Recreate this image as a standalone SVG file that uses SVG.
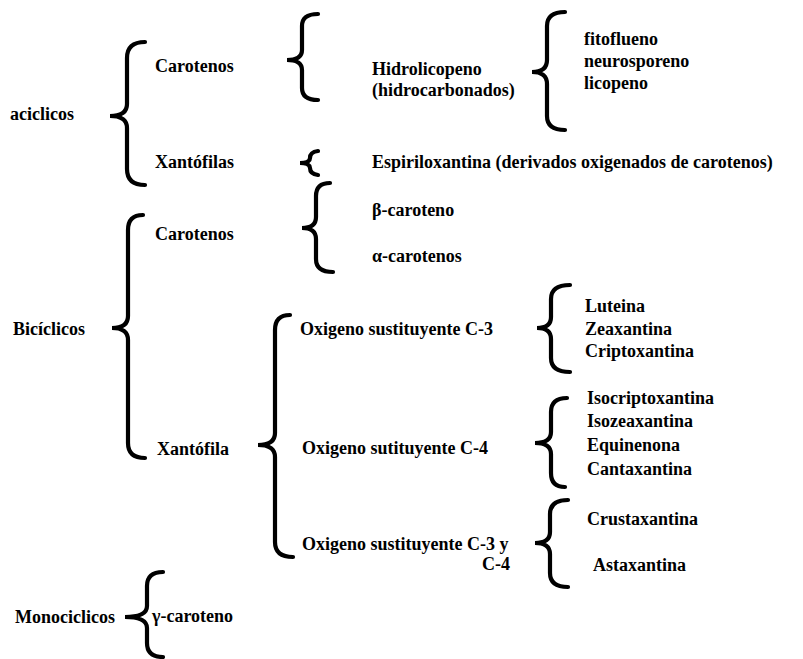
<svg xmlns="http://www.w3.org/2000/svg" width="803" height="659" viewBox="0 0 803 659">
<style>
text{font-family:"Liberation Serif","Times New Roman",serif;font-size:18px;font-weight:bold;fill:#000}
.br{fill:none;stroke:#000;stroke-width:4.2;stroke-linecap:round;stroke-linejoin:miter;stroke-miterlimit:8}
</style>
<rect width="803" height="659" fill="#fff"/>
<g id="connectors">
<path class="br" d="M145,42 Q127,42 127,58 L127,104 Q127,116 110,116 Q127,116 127,128 L127,169 Q127,185 145,185"/>
<path class="br" d="M318,14 Q302,14 302,26 L302,50 Q302,60 287,60 Q302,60 302,70 L302,88 Q302,100 318,100"/>
<path class="br" d="M565,12 Q547,12 547,26 L547,60 Q547,72 532,72 Q547,72 547,84 L547,116 Q547,130 565,130"/>
<path class="br" d="M318,151 Q310,152 310,158 Q310,163 300,163 Q310,163 310,168 Q310,174 318,175"/>
<path class="br" d="M330,183 Q316,183 316,196 L316,217 Q316,228 302,228 Q316,228 316,239 L316,259 Q316,272 333,272"/>
<path class="br" d="M143,215 Q128,215 128,230 L128,316 Q128,328 112,328 Q128,328 128,340 L128,443 Q128,458 145,458"/>
<path class="br" d="M290,315 Q275,315 275,330 L275,433 Q275,445 258,445 Q275,445 275,457 L275,542 Q275,557 293,557"/>
<path class="br" d="M570,285 Q551,285 551,299 L551,317 Q551,328 537,328 Q551,328 551,339 L551,358 Q551,372 570,372"/>
<path class="br" d="M567,398 Q551,398 551,412 L551,432 Q551,443 535,443 Q551,443 551,454 L551,473 Q551,487 565,487"/>
<path class="br" d="M568,500 Q550,500 550,514 L550,532 Q550,543 535,543 Q550,543 550,554 L550,573 Q550,587 568,587"/>
<path class="br" d="M163,572 Q147,572 147,586 L147,606 Q147,617 125,617 Q147,617 147,628 L147,643 Q147,657 163,657"/>
</g>
<g id="aciclicos"><text x="10" y="120">aciclicos</text></g>
<g id="carotenos-aciclicos"><text x="155" y="72">Carotenos</text></g>
<g id="xantofilas-aciclicos"><text x="155" y="168">Xantófilas</text></g>
<g id="hidrolicopeno"><text x="372" y="75">Hidrolicopeno</text><text x="372" y="96">(hidrocarbonados)</text></g>
<g id="fitoflueno"><text x="584" y="45">fitoflueno</text></g>
<g id="neurosporeno"><text x="584" y="67">neurosporeno</text></g>
<g id="licopeno"><text x="584" y="89">licopeno</text></g>
<g id="espiriloxantina"><text x="372" y="168">Espiriloxantina (derivados oxigenados de carotenos)</text></g>
<g id="carotenos-biciclicos"><text x="155" y="240">Carotenos</text></g>
<g id="beta-caroteno"><text x="372" y="216">β-caroteno</text></g>
<g id="alfa-carotenos"><text x="372" y="262">α-carotenos</text></g>
<g id="biciclicos"><text x="13" y="335">Bicíclicos</text></g>
<g id="oxigeno-c3"><text x="300" y="335">Oxigeno sustituyente C-3</text></g>
<g id="luteina"><text x="585" y="312">Luteina</text></g>
<g id="zeaxantina"><text x="585" y="335">Zeaxantina</text></g>
<g id="criptoxantina"><text x="585" y="357">Criptoxantina</text></g>
<g id="xantofila-biciclicos"><text x="157" y="455">Xantófila</text></g>
<g id="oxigeno-c4"><text x="302" y="454">Oxigeno sutituyente C-4</text></g>
<g id="isocriptoxantina"><text x="587" y="404">Isocriptoxantina</text></g>
<g id="isozeaxantina"><text x="587" y="427">Isozeaxantina</text></g>
<g id="equinenona"><text x="587" y="451">Equinenona</text></g>
<g id="cantaxantina"><text x="587" y="475">Cantaxantina</text></g>
<g id="oxigeno-c3-c4"><text x="302" y="550">Oxigeno sustituyente C-3 y</text><text x="510" y="570" text-anchor="end">C-4</text></g>
<g id="crustaxantina"><text x="587" y="525">Crustaxantina</text></g>
<g id="astaxantina"><text x="593" y="571">Astaxantina</text></g>
<g id="monociclicos"><text x="15" y="623">Monociclicos</text></g>
<g id="gamma-caroteno"><text x="152" y="622">γ-caroteno</text></g>
</svg>
